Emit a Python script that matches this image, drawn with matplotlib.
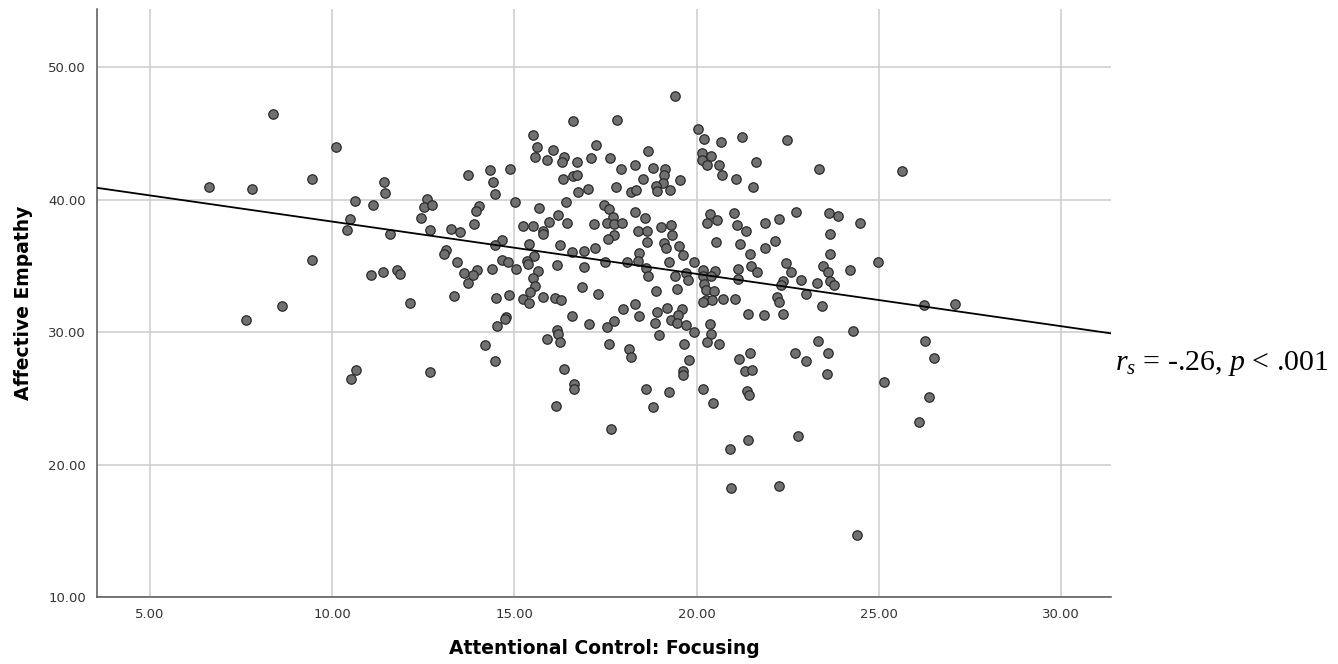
import numpy as np
import matplotlib
matplotlib.use("Agg")
import matplotlib.pyplot as plt

# Attentional Control: Focusing (x) vs Affective Empathy (y)
focusing = [
    8.37, 10.11, 9.45, 6.61, 7.79, 10.64, 11.12, 10.49, 10.41, 9.45, 11.08, 8.62, 7.63, 10.65, 10.53,
    16.61, 15.51, 15.63, 16.05, 15.57, 15.89, 16.35, 16.31, 16.33, 13.74, 14.34, 14.87, 14.41, 14.46,
    11.42, 11.46, 12.60, 12.53, 12.73, 12.45, 12.68, 11.60, 14.03, 13.95, 13.89, 13.26, 13.50, 15.01,
    15.69, 15.24, 15.52, 15.96, 16.19, 16.44, 16.43, 15.79, 15.80, 16.24, 15.40, 15.53, 14.66, 14.47,
    13.13, 13.08, 13.43, 14.66, 14.82, 15.35, 15.37, 16.17, 15.66, 15.51, 15.57, 15.44, 15.25, 15.40,
    15.79, 16.11, 16.29, 15.05, 14.39, 13.98, 13.62, 13.86, 13.74, 13.35, 14.49, 14.86, 14.76, 12.13,
    11.77, 11.85, 11.41,
    14.75, 14.53, 14.20, 14.47, 12.69, 16.18, 16.21, 15.90, 16.25, 16.36, 16.63, 16.63, 16.14,
    19.42, 17.83, 20.04, 20.21, 20.66, 21.24, 17.23, 18.66, 16.72, 17.11, 17.63, 17.93, 18.32, 18.80,
    19.14, 19.10, 19.07, 19.54, 18.53, 16.60, 16.72, 16.75, 17.02, 17.80, 18.21, 18.33, 18.88, 18.91,
    19.27, 20.16, 20.39, 20.14, 20.28, 20.62, 20.69, 21.07, 21.54, 21.62, 17.46, 17.60, 17.70, 17.55,
    17.74, 17.95, 17.19, 18.31, 18.59, 18.38, 18.65, 19.02, 19.29, 19.33, 17.73, 17.58, 18.63, 19.10,
    19.16, 19.52, 19.64, 18.42, 18.38, 18.09, 17.49, 17.21, 16.91, 16.59, 16.90, 18.62, 18.66, 19.24,
    19.93, 19.41, 19.72, 19.76, 16.86, 17.30, 18.88, 19.45, 17.98, 18.30, 18.41, 18.92, 19.18, 19.59,
    20.19, 20.52, 20.17, 20.40, 20.21, 20.26, 20.49, 20.26, 20.43, 20.19, 20.72, 21.06, 20.37, 20.29,
    20.55, 21.04, 21.11, 21.36, 21.88, 20.53, 21.18, 21.46, 21.87, 21.50, 21.67, 21.14, 21.14, 21.40,
    21.85,
    16.59, 17.04, 17.54, 17.73, 18.85, 19.30, 19.49, 19.46, 19.70, 19.93, 17.60, 18.14, 18.19, 18.97,
    19.65, 19.79, 19.64, 19.63, 18.60, 19.24, 18.80, 17.66, 20.36, 20.41, 20.30, 20.62, 21.46, 21.16,
    21.33, 21.52, 21.38, 21.44, 20.18, 20.45, 21.42, 20.92, 20.95,
    22.47, 23.36, 25.64, 22.73, 22.25, 23.63, 23.89, 24.48, 23.66, 22.16, 23.67, 22.46, 22.60, 23.46,
    23.60, 24.20, 24.97, 22.38, 22.31, 22.86, 23.31, 23.67, 23.77, 23.01, 22.21, 22.25, 23.44, 26.24,
    27.10, 22.36,
    24.28, 23.32, 22.71, 23.01, 23.60, 23.57, 25.13, 26.26, 26.52, 26.38, 26.09, 22.79, 22.25, 24.39,
]
empathy = [
    46.49, 44.01, 41.54, 40.94, 40.79, 39.88, 39.58, 38.52, 37.72, 35.45, 34.34, 31.97, 30.95, 27.14, 26.46,
    45.93, 44.92, 44.01, 43.74, 43.26, 43.03, 43.26, 42.86, 41.54, 41.87, 42.22, 42.30, 41.37, 40.46,
    41.34, 40.51, 40.06, 39.45, 39.58, 38.65, 37.74, 37.41, 39.55, 39.15, 38.17, 37.82, 37.57, 39.81,
    39.40, 38.04, 38.04, 38.29, 38.82, 38.27, 39.83, 37.66, 37.39, 36.56, 36.66, 35.73, 36.96, 36.58,
    36.23, 35.93, 35.27, 35.47, 35.30, 35.35, 35.17, 35.07, 34.62, 34.11, 33.46, 33.03, 32.50, 32.20,
    32.63, 32.60, 32.40, 34.77, 34.79, 34.69, 34.47, 34.29, 33.71, 32.75, 32.60, 32.83, 31.14, 32.20,
    34.72, 34.36, 34.54,
    31.01, 30.46, 29.00, 27.84, 26.99, 30.18, 29.86, 29.48, 29.25, 27.23, 26.10, 25.72, 24.39,
    47.82, 46.01, 45.34, 44.60, 44.37, 44.72, 44.11, 43.71, 42.88, 43.13, 43.13, 42.35, 42.60, 42.37,
    42.35, 41.84, 41.29, 41.47, 41.54, 41.77, 41.90, 40.59, 40.79, 40.94, 40.59, 40.74, 41.02, 40.69,
    40.76, 43.53, 43.33, 43.00, 42.65, 42.60, 41.90, 41.54, 40.97, 42.88, 39.58, 39.33, 38.68, 38.25,
    38.17, 38.25, 38.15, 39.10, 38.65, 37.66, 37.66, 37.92, 38.12, 37.31, 37.34, 37.06, 36.78, 36.71,
    36.33, 36.48, 35.85, 36.00, 35.40, 35.32, 35.27, 36.36, 36.15, 36.08, 34.89, 34.84, 34.21, 35.32,
    35.32, 34.21, 34.47, 33.91, 33.43, 32.85, 33.13, 33.26, 31.74, 32.15, 31.22, 31.52, 31.82, 31.77,
    34.67, 34.60, 34.21, 34.21, 33.66, 33.15, 33.13, 32.45, 32.40, 32.30, 32.52, 32.50, 38.92, 38.24,
    38.44, 38.99, 38.11, 37.63, 38.24, 36.78, 36.68, 35.92, 36.38, 34.97, 34.54, 34.77, 34.04, 31.40,
    31.30,
    31.24, 30.61, 30.38, 30.85, 30.69, 30.94, 31.32, 30.69, 30.51, 30.03, 29.09, 28.71, 28.11, 29.75,
    29.12, 27.86, 27.03, 26.73, 25.72, 25.47, 24.36, 22.68, 30.61, 29.86, 29.23, 29.08, 28.40, 27.97,
    27.08, 27.16, 25.52, 25.27, 25.70, 24.64, 21.84, 21.19, 18.22,
    44.49, 42.35, 42.15, 39.05, 38.57, 39.00, 38.75, 38.27, 37.41, 36.89, 35.87, 35.19, 34.56, 34.99,
    34.51, 34.67, 35.32, 33.88, 33.53, 33.94, 33.68, 33.88, 33.53, 32.85, 32.65, 32.25, 31.94, 32.02,
    32.12, 31.34,
    30.11, 29.35, 28.40, 27.79, 28.40, 26.86, 26.21, 29.33, 28.07, 25.12, 23.18, 22.14, 18.39, 14.69,
]

# linear fit line as shown on the chart
fit_intercept = 42.30
fit_slope = -0.395

x_ticks = [5, 10, 15, 20, 25, 30]
y_ticks = [10, 20, 30, 40, 50]
annotation = r"$r_s$ = -.26, $p$ < .001"

plt.rcParams["mathtext.fontset"] = "custom"
plt.rcParams["mathtext.rm"] = "Liberation Serif"
plt.rcParams["mathtext.it"] = "Liberation Serif:italic"

fig = plt.figure(figsize=(13.38, 6.64), dpi=100)
ax = fig.add_axes([0.0725, 0.1009, 0.7578, 0.8855])

ax.set_xlim(3.55, 31.37)
ax.set_ylim(10, 54.4)

ax.scatter(focusing, empathy, s=46, facecolor="#707070", edgecolor="#2a2a2a",
           linewidths=0.9, zorder=3)

xf = np.array(ax.get_xlim())
ax.plot(xf, fit_intercept + fit_slope * xf, color="black", lw=1.3, zorder=4)

ax.set_xticks(x_ticks)
ax.set_yticks(y_ticks)
ax.set_xticklabels([f"{v:.2f}" for v in x_ticks])
ax.set_yticklabels([f"{v:.2f}" for v in y_ticks])
ax.tick_params(length=0, labelsize=9.5, labelcolor="#333333", pad=8)
ax.grid(True, color="#cccccc", lw=1.1, zorder=0)

for side in ["top", "right"]:
    ax.spines[side].set_visible(False)
for side in ["left", "bottom"]:
    ax.spines[side].set_color("#555555")
    ax.spines[side].set_linewidth(1.1)

ax.set_xlabel("Attentional Control: Focusing", fontsize=13.5, fontweight="bold", labelpad=13)
ax.set_ylabel("Affective Empathy", fontsize=13.5, fontweight="bold", labelpad=11)

fig.text(0.8335, 0.452, annotation, fontsize=21.5, family="Liberation Serif", va="center", ha="left")

fig.savefig("out.png", dpi=100)
